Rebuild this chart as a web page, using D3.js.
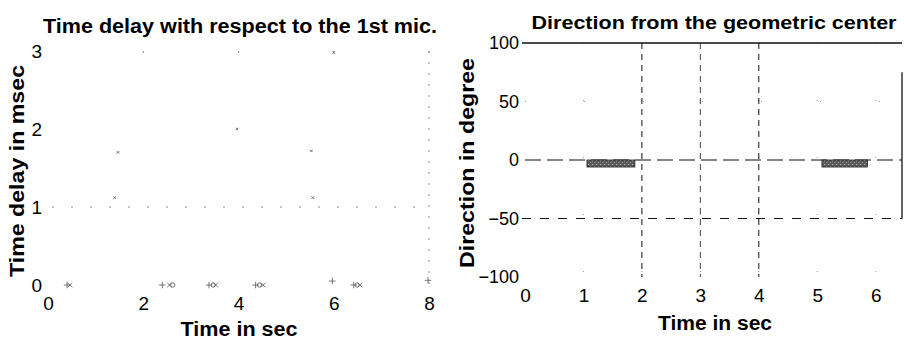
<!DOCTYPE html>
<html>
<head>
<meta charset="utf-8">
<script src="https://cdn.jsdelivr.net/npm/d3@7"></script>
<style>
  body { margin: 0; background: #fff; }
  svg { display: block; font-family: "Liberation Sans", Arial, sans-serif; }
</style>
</head>
<body>
<div id="chart"></div>
<script>
// left panel: time delay (msec) vs time (sec), faded markers
const delayXTicks = [0, 2, 4, 6, 8];
const delayYTicks = [0, 1, 2, 3];
const delayPlus = [[0.40, 0], [2.40, 0], [3.38, 0], [4.36, 0], [5.97, 0.05], [6.42, 0], [7.98, 0.06]];
const delayCross = [[0.46, 0], [2.55, 0], [3.52, 0], [4.52, 0], [6.55, 0]];
const delayCircle = [[2.62, 0], [3.47, 0], [4.44, 0], [6.49, 0]];
const delayFaint = [[1.47, 1.70], [5.53, 1.72], [3.97, 2.0], [1.40, 1.12], [5.56, 1.12], [6.0, 2.98]];

// right panel: direction (degree) vs time (sec)
const dirXTicks = [0, 1, 2, 3, 4, 5, 6];
const dirYTicks = [-100, -50, 0, 50, 100];
const dirBarStart = [1.06, 5.08];
const dirBarEnd = [1.88, 5.86];
const dirBarValue = [-6, -6];

const W = 904, H = 341;
const fmt = d3.format("d");
const svg = d3.select("#chart").append("svg")
    .attr("width", W)
    .attr("height", H);

const defs = svg.append("defs");
const pat = defs.append("pattern")
    .attr("id", "stipple")
    .attr("width", 4).attr("height", 4)
    .attr("patternUnits", "userSpaceOnUse");
pat.append("rect").attr("width", 4).attr("height", 4).attr("fill", "#5a5a5a");
pat.append("rect").attr("x", 0).attr("y", 0).attr("width", 1).attr("height", 1).attr("fill", "#bbb");
pat.append("rect").attr("x", 2).attr("y", 2).attr("width", 1).attr("height", 1).attr("fill", "#999");

// ---------- left panel ----------
const x1 = d3.scaleLinear().domain([0, 8]).range([48, 429]);
const y1 = d3.scaleLinear().domain([0, 3]).range([285, 51]);

const left = svg.append("g");

// faded grid line at 1 msec and right border
left.append("line")
    .attr("x1", x1(0) + 4).attr("x2", x1(8))
    .attr("y1", y1(1)).attr("y2", y1(1))
    .attr("stroke", "#888").attr("stroke-width", 1)
    .attr("stroke-dasharray", "2,17");
left.append("line")
    .attr("x1", x1(8)).attr("x2", x1(8))
    .attr("y1", y1(3)).attr("y2", y1(0))
    .attr("stroke", "#888").attr("stroke-width", 1)
    .attr("stroke-dasharray", "2,9");
// faded top ticks
left.selectAll(".ttick")
    .data(delayXTicks.slice(1))
    .enter().append("line")
    .attr("x1", d => x1(d)).attr("x2", d => x1(d))
    .attr("y1", y1(3)).attr("y2", y1(3) + 2)
    .attr("stroke", "#888");

const xAxis1 = d3.axisBottom(x1).tickValues(delayXTicks).tickFormat(fmt).tickSize(0).tickPadding(0);
left.append("g")
    .attr("transform", "translate(0,296)")
    .call(xAxis1)
    .call(g => g.select(".domain").remove())
    .selectAll("text")
    .attr("dy", "0.71em")
    .style("font-size", "19px")
    .attr("fill", "#000");

const yAxis1 = d3.axisLeft(y1).tickValues(delayYTicks).tickFormat(fmt).tickSize(0).tickPadding(6);
left.append("g")
    .attr("transform", `translate(${x1(0)},0)`)
    .call(yAxis1)
    .call(g => g.select(".domain").remove())
    .selectAll("text")
    .style("font-size", "19px")
    .attr("fill", "#000");

const mark = (data, type, size) => left.selectAll(null)
    .data(data)
    .enter().append("path")
    .attr("transform", d => `translate(${x1(d[0])},${y1(d[1])})`)
    .attr("d", d3.symbol().type(type).size(size))
    .attr("fill", "none")
    .attr("stroke", "#555")
    .attr("stroke-width", 0.8);

mark(delayPlus, d3.symbolPlus, 16);
mark(delayCross, d3.symbolX, 16);
mark(delayCircle, d3.symbolCircle, 14);
mark(delayFaint, d3.symbolX, 5);

left.append("text")
    .attr("x", 240).attr("y", 33)
    .attr("text-anchor", "middle")
    .attr("textLength", 394).attr("lengthAdjust", "spacingAndGlyphs")
    .style("font-size", "20px").style("font-weight", "bold")
    .text("Time delay with respect to the 1st mic.");

left.append("text")
    .attr("x", 239).attr("y", 336)
    .attr("text-anchor", "middle")
    .attr("textLength", 117).attr("lengthAdjust", "spacingAndGlyphs")
    .style("font-size", "20px").style("font-weight", "bold")
    .text("Time in sec");

left.append("text")
    .attr("transform", "translate(24,171) rotate(-90)")
    .attr("text-anchor", "middle")
    .attr("textLength", 212).attr("lengthAdjust", "spacingAndGlyphs")
    .style("font-size", "20px").style("font-weight", "bold")
    .text("Time delay in msec");

// ---------- right panel ----------
const x2 = d3.scaleLinear().domain([0, 6.45]).range([525, 902]);
const y2 = d3.scaleLinear().domain([-100, 100]).range([277, 43]);

const right = svg.append("g");

// faint dotted grid everywhere
right.selectAll(".vg")
    .data(dirXTicks.filter(d => d !== 0))
    .enter().append("line")
    .attr("x1", d => x2(d)).attr("x2", d => x2(d))
    .attr("y1", y2(100)).attr("y2", y2(-100))
    .attr("stroke", "#999").attr("stroke-dasharray", "1,56");
right.append("line")
    .attr("x1", x2(0)).attr("x2", x2(6.45))
    .attr("y1", y2(50)).attr("y2", y2(50))
    .attr("stroke", "#999").attr("stroke-dasharray", "1,58");

// surviving dashed grid lines
right.selectAll(".vdash")
    .data([2, 3, 4])
    .enter().append("line")
    .attr("x1", d => x2(d)).attr("x2", d => x2(d))
    .attr("y1", y2(100)).attr("y2", y2(-100))
    .attr("stroke", d => d === 3 ? "#444" : "#111")
    .attr("stroke-width", 1)
    .attr("stroke-dasharray", "6,5");

right.append("line")
    .attr("x1", x2(0)).attr("x2", x2(6.45))
    .attr("y1", y2(0)).attr("y2", y2(0))
    .attr("stroke", "#111").attr("stroke-width", 1.2)
    .attr("stroke-dasharray", "16,6");
right.append("line")
    .attr("x1", x2(0) - 3).attr("x2", x2(6.45))
    .attr("y1", y2(-50)).attr("y2", y2(-50))
    .attr("stroke", "#111").attr("stroke-width", 1.2)
    .attr("stroke-dasharray", "9,9");

// top border and right border
right.append("line")
    .attr("x1", x2(0) - 3).attr("x2", x2(6.45))
    .attr("y1", y2(100)).attr("y2", y2(100))
    .attr("stroke", "#111").attr("stroke-width", 1.3);
right.append("line")
    .attr("x1", x2(6.45)).attr("x2", x2(6.45))
    .attr("y1", y2(75)).attr("y2", y2(-50))
    .attr("stroke", "#111").attr("stroke-width", 1.3);

// bars
right.selectAll(".bar")
    .data(dirBarStart.map((s, i) => ({ s: s, e: dirBarEnd[i], v: dirBarValue[i] })))
    .enter().append("rect")
    .attr("x", d => x2(d.s))
    .attr("width", d => x2(d.e) - x2(d.s))
    .attr("y", d => y2(0))
    .attr("height", d => y2(d.v) - y2(0))
    .attr("fill", "url(#stipple)")
    .attr("stroke", "#222").attr("stroke-width", 0.8);

const xAxis2 = d3.axisBottom(x2).tickValues(dirXTicks).tickFormat(fmt).tickSize(0).tickPadding(0);
right.append("g")
    .attr("transform", "translate(0,288)")
    .call(xAxis2)
    .call(g => g.select(".domain").remove())
    .selectAll("text")
    .attr("dy", "0.71em")
    .style("font-size", "19px")
    .attr("fill", "#000");

const yAxis2 = d3.axisLeft(y2).tickValues(dirYTicks).tickFormat(fmt).tickSize(0).tickPadding(6);
right.append("g")
    .attr("transform", `translate(${x2(0)},0)`)
    .call(yAxis2)
    .call(g => g.select(".domain").remove())
    .selectAll("text")
    .style("font-size", "18px")
    .attr("fill", "#000");

right.append("text")
    .attr("x", 714).attr("y", 29)
    .attr("text-anchor", "middle")
    .attr("textLength", 365).attr("lengthAdjust", "spacingAndGlyphs")
    .style("font-size", "19px").style("font-weight", "bold")
    .text("Direction from the geometric center");

right.append("text")
    .attr("x", 715).attr("y", 330)
    .attr("text-anchor", "middle")
    .attr("textLength", 114).attr("lengthAdjust", "spacingAndGlyphs")
    .style("font-size", "20px").style("font-weight", "bold")
    .text("Time in sec");

right.append("text")
    .attr("transform", "translate(474,163) rotate(-90)")
    .attr("text-anchor", "middle")
    .attr("textLength", 210).attr("lengthAdjust", "spacingAndGlyphs")
    .style("font-size", "20px").style("font-weight", "bold")
    .text("Direction in degree");
</script>
</body>
</html>
